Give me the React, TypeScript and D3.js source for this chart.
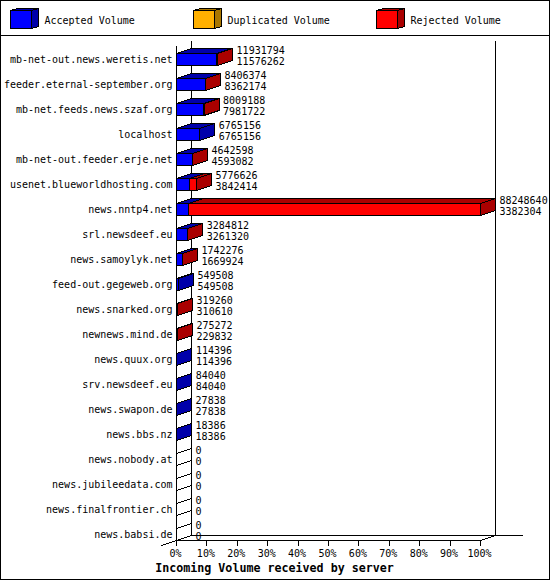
import { useEffect, useRef } from 'react'
import * as d3 from 'd3'

const servers = [
  'mb-net-out.news.weretis.net', 'feeder.eternal-september.org', 'mb-net.feeds.news.szaf.org',
  'localhost', 'mb-net-out.feeder.erje.net', 'usenet.blueworldhosting.com', 'news.nntp4.net',
  'srl.newsdeef.eu', 'news.samoylyk.net', 'feed-out.gegeweb.org', 'news.snarked.org',
  'newnews.mind.de', 'news.quux.org', 'srv.newsdeef.eu', 'news.swapon.de', 'news.bbs.nz',
  'news.nobody.at', 'news.jubileedata.com', 'news.finalfrontier.ch', 'news.babsi.de',
]
const totalVolume = [
  11931794, 8406374, 8009188, 6765156, 4642598, 5776626, 88248640, 3284812, 1742276, 549508,
  319260, 275272, 114396, 84040, 27838, 18386, 0, 0, 0, 0,
]
const acceptedVolume = [
  11576262, 8362174, 7981722, 6765156, 4593082, 3842414, 3382304, 3261320, 1669924, 549508,
  310610, 229832, 114396, 84040, 27838, 18386, 0, 0, 0, 0,
]
const legendItems = ['Accepted Volume', 'Duplicated Volume', 'Rejected Volume']
const legendColors = ['#0000ff', '#ffb000', '#ff0000']
const legendDark = ['#0000aa', '#aa7700', '#aa0000']
const percentTicks = [0, 10, 20, 30, 40, 50, 60, 70, 80, 90, 100]
const chartTitle = 'Incoming Volume received by server'

const MONO = '"DejaVu Sans Mono", "Liberation Mono", monospace'

export default function App() {
  const svgRef = useRef<SVGSVGElement>(null)

  useEffect(() => {
    if (!svgRef.current) return
    const root = d3.select(svgRef.current)
    root.selectAll('*').remove()

    const svg = root.append('g')
      .attr('transform', 'translate(0.5,0.5)')
      .attr('font-family', MONO)
      .attr('font-size', 10)
      .attr('fill', '#000')

    const line = (x1: number, y1: number, x2: number, y2: number) =>
      svg.append('line')
        .attr('x1', x1).attr('y1', y1).attr('x2', x2).attr('y2', y2)
        .attr('stroke', '#000')
        .attr('shape-rendering', 'crispEdges')

    // Frame and legend separator
    svg.append('rect')
      .attr('width', 549).attr('height', 579)
      .attr('fill', '#fff').attr('stroke', '#000')
      .attr('shape-rendering', 'crispEdges')
    line(0, 35, 549, 35)

    // Scales
    const x = d3.scaleLinear().domain([0, 100]).range([176, 480])
    const y = d3.scalePoint().domain(servers).range([59, 534])
    const maxVolume = d3.max(totalVolume) || 1
    const pct = (v: number) => x((v / maxVolume) * 100)
    const depthX = 15
    const depthY = 5
    const halfBar = 6

    const top = 40
    const frontBottom = 540
    const backBottom = frontBottom - depthY

    // Walls
    line(x(0) + depthX, top, x(0) + depthX, backBottom)
    line(x(100) + depthX, top, x(100) + depthX, backBottom)
    line(x(0), top + depthY, x(0), frontBottom)
    line(x(0) + depthX, backBottom, 522, backBottom)
    line(x(0), frontBottom, x(100), frontBottom)
    line(x(0) - depthX, frontBottom + depthY, x(0) + depthX, backBottom)
    line(x(100), frontBottom, x(100) + depthX, backBottom)

    // Axis
    percentTicks.forEach(t => {
      line(x(t), frontBottom, x(t), frontBottom + depthY)
      svg.append('text')
        .attr('x', x(t) - 1)
        .attr('y', 556)
        .attr('text-anchor', 'middle')
        .text(`${t}%`)
    })

    svg.append('text')
      .attr('x', 274)
      .attr('y', 571)
      .attr('text-anchor', 'middle')
      .attr('font-weight', 'bold')
      .attr('font-size', 11.67)
      .text(chartTitle)

    // Bars
    const box = (x0: number, x1: number, yc: number, fill: string, dark: string, side: boolean) => {
      const poly = (pts: [number, number][], color: string) =>
        svg.append('polygon')
          .attr('points', pts.join(' '))
          .attr('fill', color)
          .attr('stroke', '#000')
          .attr('shape-rendering', 'crispEdges')
      const yt = yc - halfBar
      const yb = yc + halfBar
      poly([[x0, yt], [x0 + depthX, yt - depthY], [x1 + depthX, yt - depthY], [x1, yt]], dark)
      if (side) poly([[x1, yt], [x1 + depthX, yt - depthY], [x1 + depthX, yb - depthY], [x1, yb]], dark)
      poly([[x0, yt], [x1, yt], [x1, yb], [x0, yb]], fill)
    }

    servers.forEach((name, i) => {
      const yc = y(name) as number
      const total = totalVolume[i]
      const accepted = acceptedVolume[i]
      const rejected = total - accepted
      const end = pct(total)

      svg.append('text')
        .attr('x', 172)
        .attr('y', yc + 3)
        .attr('text-anchor', 'end')
        .text(name)

      if (total === 0) {
        box(x(0), x(0), yc, 'none', 'none', true)
      } else {
        box(x(0), pct(accepted), yc, legendColors[0], legendDark[0], rejected === 0)
        if (rejected > 0) box(pct(accepted), end, yc, legendColors[2], legendDark[2], true)
      }

      const labelX = end + depthX + 4
      svg.append('text').attr('x', labelX).attr('y', yc - 6).text(total)
      svg.append('text').attr('x', labelX).attr('y', yc + 5).text(accepted)
    })

    // Legend
    const legendX = d3.scalePoint().domain(legendItems).range([10, 376])
    legendItems.forEach((item, i) => {
      const lx = legendX(item) as number
      const poly = (pts: [number, number][], color: string) =>
        svg.append('polygon')
          .attr('points', pts.join(' '))
          .attr('fill', color)
          .attr('stroke', '#000')
          .attr('shape-rendering', 'crispEdges')
      poly([[lx, 10], [lx + 7, 8], [lx + 28, 8], [lx + 21, 10]], legendDark[i])
      poly([[lx + 21, 10], [lx + 28, 8], [lx + 28, 26], [lx + 21, 28]], legendDark[i])
      poly([[lx, 10], [lx + 21, 10], [lx + 21, 28], [lx, 28]], legendColors[i])
      svg.append('text')
        .attr('x', lx + 34)
        .attr('y', 23)
        .text(item)
    })
  }, [])

  return (
    <svg
      ref={svgRef}
      width={550}
      height={580}
      style={{ position: 'absolute', left: 0, top: 0, display: 'block' }}
    />
  )
}
